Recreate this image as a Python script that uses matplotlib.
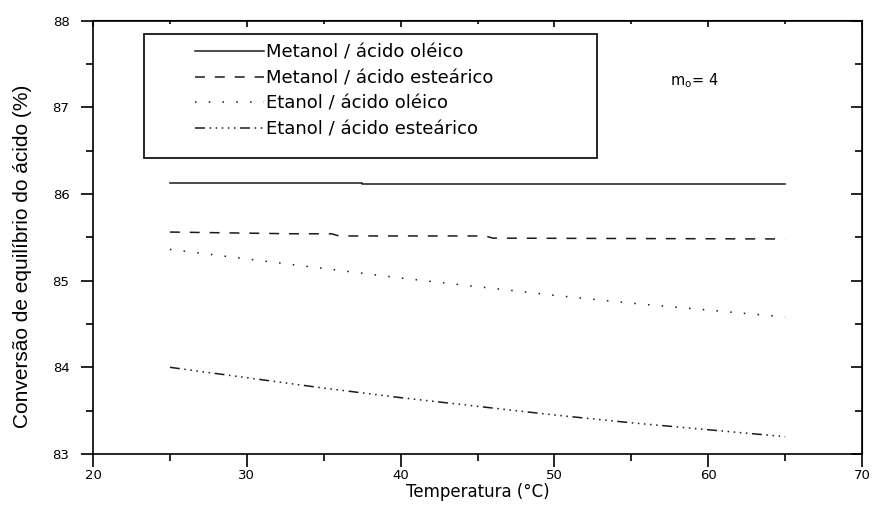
import matplotlib
matplotlib.use('Agg')
import matplotlib.pyplot as plt
from matplotlib.patches import Rectangle
from matplotlib.ticker import MultipleLocator

# Dados
temp_met_oleico = [25, 37.5, 37.5, 65]
met_oleico = [86.13, 86.13, 86.11, 86.11]

temp_met_estearico = [25, 33, 35.5, 36, 45.5, 46, 65]
met_estearico = [85.56, 85.54, 85.54, 85.515, 85.515, 85.49, 85.48]

temp = [25, 30, 35, 40, 45, 50, 55, 60, 65]
et_oleico = [85.36, 85.25, 85.14, 85.03, 84.93, 84.83, 84.74, 84.66, 84.58]
et_estearico = [84.00, 83.88, 83.76, 83.65, 83.55, 83.45, 83.36, 83.28, 83.20]

labels = ['Metanol / ácido oléico', 'Metanol / ácido esteárico',
          'Etanol / ácido oléico', 'Etanol / ácido esteárico']

plt.rcParams['font.family'] = ['DejaVu Sans']

fig = plt.figure(figsize=(8.72, 5.17), dpi=100)
ax = fig.add_axes([93 / 872, 1 - 454 / 517, 769 / 872, 433.5 / 517])

lw = 1.1
cor = '#1a1a1a'
ax.plot(temp_met_oleico, met_oleico, color=cor, lw=lw, ls='-', label=labels[0])
ax.plot(temp_met_estearico, met_estearico, color=cor, lw=lw, ls=(0, (6.5, 6.5)), label=labels[1])
ax.plot(temp, et_oleico, color=cor, lw=lw, ls=(0, (1, 8)), label=labels[2])
ax.plot(temp, et_estearico, color=cor, lw=lw,
        ls=(0, (6.5, 3, 1, 3, 1, 3, 1, 3, 1, 3, 1, 3)), label=labels[3])

ax.set_xlim(20, 70)
ax.set_ylim(83, 88)
ax.xaxis.set_major_locator(MultipleLocator(10))
ax.xaxis.set_minor_locator(MultipleLocator(5))
ax.yaxis.set_major_locator(MultipleLocator(1))
ax.yaxis.set_minor_locator(MultipleLocator(0.5))

for s in ax.spines.values():
    s.set_linewidth(1.2)

ax.tick_params(which='major', direction='out', length=9, width=1.2, labelsize=9.5, pad=2)
ax.tick_params(axis='y', which='major', pad=8)
ax.tick_params(which='minor', direction='out', length=5, width=1.2)

# eixos de cima e da direita com ticks para dentro
top = ax.secondary_xaxis('top')
top.xaxis.set_major_locator(MultipleLocator(10))
top.xaxis.set_minor_locator(MultipleLocator(5))
top.tick_params(which='major', direction='in', length=5, width=1.2, labeltop=False)
top.tick_params(which='minor', direction='in', length=3, width=1.2)
right = ax.secondary_yaxis('right')
right.yaxis.set_major_locator(MultipleLocator(1))
right.yaxis.set_minor_locator(MultipleLocator(0.5))
right.tick_params(which='major', direction='in', length=8, width=1.2, labelright=False)
right.tick_params(which='minor', direction='in', length=5, width=1.2)

ax.set_xlabel('Temperatura (°C)', fontsize=12)
ax.xaxis.set_label_coords(0.5, -0.067, transform=ax.transAxes)
ax.xaxis.label.set_va('top')
ax.set_ylabel('Conversão de equilíbrio do ácido (%)', fontsize=15, family='Liberation Sans')
ax.yaxis.set_label_coords(-0.079, 0.457)

# caixa da legenda
ax.add_patch(Rectangle((0.0663, 0.6828), 0.5891, 0.2861, transform=ax.transAxes,
                       fill=False, edgecolor='black', lw=1.2, zorder=5))
ax.legend(loc='upper left', bbox_to_anchor=(0.1326, 0.947), frameon=False, fontsize=13,
          handlelength=3.8, handletextpad=0.15, labelspacing=0.42, borderpad=0, borderaxespad=0)

ax.text(0.75, 0.85, r'm$_\mathrm{o}$= 4', transform=ax.transAxes, fontsize=10.5)

fig.savefig('out.png', dpi=100)
